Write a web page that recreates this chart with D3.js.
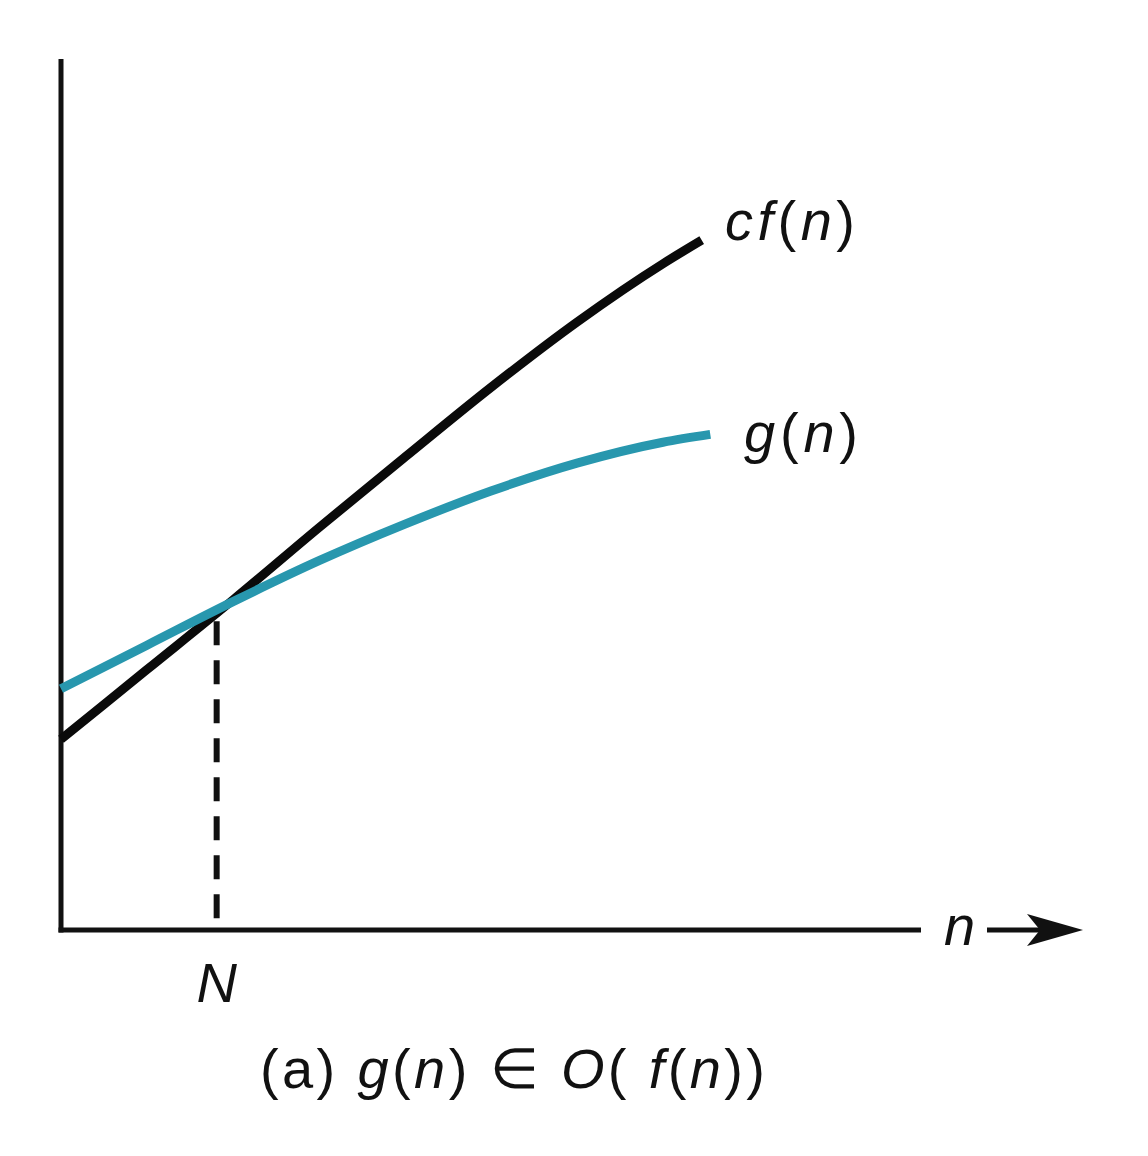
<!DOCTYPE html>
<html>
<head>
<meta charset="utf-8">
<script src="https://cdn.jsdelivr.net/npm/d3@7"></script>
<style>
  html, body { margin: 0; padding: 0; background: #ffffff; }
  svg { display: block; }
  text { font-family: "Liberation Sans", Arial, Helvetica, sans-serif; fill: #111; }
</style>
</head>
<body>
<script>
// ---- data (n on x, value on y; both on 0..10 scale) ----
const nValuesF = [0, 1, 2, 3, 4, 5, 6, 7, 7.45];
const cfValues = [2.19, 2.99, 3.79, 4.62, 5.43, 6.23, 6.98, 7.65, 7.92];
const nValuesG = [0, 1, 2, 3, 4, 5, 6, 7, 7.55];
const gValues  = [2.77, 3.27, 3.77, 4.24, 4.66, 5.04, 5.36, 5.60, 5.69];
const crossN = 1.81;
const crossValue = 3.66;
const seriesLabels = ["cf(n)", "g(n)"];
const xTickLabels = ["N"];
const axisLabel = "n";

const W = 1148, H = 1156;
const svg = d3.select("body").append("svg").attr("width", W).attr("height", H);

const x = d3.scaleLinear().domain([0, 10]).range([61, 921]);
const y = d3.scaleLinear().domain([0, 10]).range([930, 59]);

const teal = "#2897ae";

// axes
svg.append("line").attr("x1", x(0)).attr("x2", x(0)).attr("y1", y(10)).attr("y2", y(0) + 2.5)
  .attr("stroke", "#111").attr("stroke-width", 5);
svg.append("line").attr("x1", x(0) - 2.5).attr("x2", x(10)).attr("y1", y(0)).attr("y2", y(0))
  .attr("stroke", "#111").attr("stroke-width", 5);

// dashed N line
svg.append("line").attr("x1", x(crossN)).attr("x2", x(crossN))
  .attr("y1", y(crossValue) + 10).attr("y2", y(0))
  .attr("stroke", "#111").attr("stroke-width", 6).attr("stroke-dasharray", "24,15");

const line = d3.line().x(d => x(d[0])).y(d => y(d[1])).curve(d3.curveMonotoneX);

// curves
svg.append("path").datum(nValuesF.map((n, i) => [n, cfValues[i]]))
  .attr("d", line).attr("fill", "none").attr("stroke", "#0a0a0a").attr("stroke-width", 9);
svg.append("path").datum(nValuesG.map((n, i) => [n, gValues[i]]))
  .attr("d", line).attr("fill", "none").attr("stroke", teal).attr("stroke-width", 9);

// curve labels
function mathLabel(parts, px, py, len) {
  const t = svg.append("text").attr("x", px).attr("y", py).attr("font-size", 56);
  if (len) t.attr("textLength", len).attr("lengthAdjust", "spacing");
  parts.forEach(p => t.append("tspan").attr("font-style", p[1] ? "italic" : "normal").text(p[0]));
  return t;
}
mathLabel([["c", 1], ["f", 1], ["(", 0], ["n", 1], [")", 0]], 725, 240, 130);
mathLabel([["g", 1], ["(", 0], ["n", 1], [")", 0]], 744, 452, 114);

// x axis label and arrow
mathLabel([["n", 1]], 944, 945);
svg.append("line").attr("x1", 987).attr("x2", 1040).attr("y1", y(0)).attr("y2", y(0))
  .attr("stroke", "#111").attr("stroke-width", 5);
svg.append("path")
  .attr("d", `M1083,${y(0)} L1027,${y(0) - 16} L1040,${y(0)} L1027,${y(0) + 16} Z`)
  .attr("fill", "#111");

// N tick label
svg.append("text").attr("x", x(crossN)).attr("y", 1002).attr("text-anchor", "middle")
  .attr("font-size", 56).attr("font-style", "italic").text(xTickLabels[0]);

// caption
mathLabel([["(a) ", 0], ["g", 1], ["(", 0], ["n", 1], [") ", 0], ["∈", 0], [" ", 0], ["O", 1], ["( ", 0],
           ["f", 1], ["(", 0], ["n", 1], ["))", 0]], 260, 1088, 505);
</script>
</body>
</html>
